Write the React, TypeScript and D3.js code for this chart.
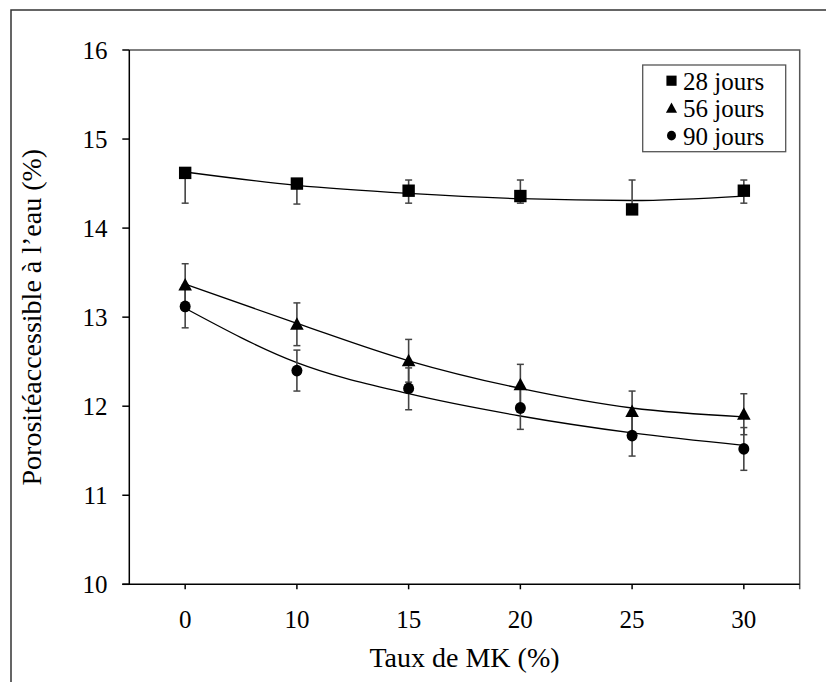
import React from "react";
import * as d3 from "d3";

// ---- Data ----
const categories = ["0", "10", "15", "20", "25", "30"];
const yTicks = [10, 11, 12, 13, 14, 15, 16];

const values28 = [14.62, 14.5, 14.42, 14.36, 14.21, 14.42];
const errUp28 = [0, 0, 0.12, 0.18, 0.33, 0.12];
const errDown28 = [0.34, 0.23, 0.14, 0.08, 0, 0.14];
const fit28 = [14.63, 14.48, 14.39, 14.33, 14.31, 14.36];

const values56 = [13.36, 12.92, 12.51, 12.24, 11.94, 11.91];
const errUp56 = [0.24, 0.24, 0.24, 0.23, 0.23, 0.23];
const errDown56 = [0.24, 0.24, 0.24, 0.23, 0.23, 0.23];
const fit56 = [13.37, 12.93, 12.51, 12.2, 11.98, 11.88];

const values90 = [13.12, 12.4, 12.2, 11.98, 11.67, 11.52];
const errUp90 = [0.24, 0.23, 0.23, 0.24, 0.23, 0.24];
const errDown90 = [0.24, 0.23, 0.24, 0.24, 0.23, 0.24];
const fit90 = [13.1, 12.49, 12.14, 11.89, 11.7, 11.56];

const seriesNames = ["28 jours", "56 jours", "90 jours"];
const seriesShapes = ["square", "triangle", "circle"];

const xTitle = "Taux de MK (%)";
const yTitle = "Porositéaccessible à l’eau (%)";

const FONT = '"Liberation Serif", Times, "Times New Roman", serif';

function Marker({ shape, x, y, s = 1 }: { shape: string; x: number; y: number; s?: number }) {
  if (shape === "square") {
    const h = 6.2 * s;
    return <rect x={x - h} y={y - h} width={2 * h} height={2 * h} fill="#000" />;
  }
  if (shape === "triangle") {
    const w = 6.8 * s;
    const p = `M${x},${y - 7 * s} L${x + w},${y + 5.5 * s} L${x - w},${y + 5.5 * s} Z`;
    return <path d={p} fill="#000" />;
  }
  return <ellipse cx={x} cy={y} rx={5.5 * s} ry={5.9 * s} fill="#000" />;
}

export default function App() {
  const W = 826;
  const H = 682;
  const left = 129.3;
  const right = 799.7;
  const top = 50;
  const bottom = 584.3;

  const x = d3.scalePoint<string>().domain(categories).range([left, right]).padding(0.5);
  const y = d3.scaleLinear().domain([10, 16]).range([bottom, top]);

  const series = [
    { name: seriesNames[0], shape: seriesShapes[0], v: values28, up: errUp28, dn: errDown28, fit: fit28 },
    { name: seriesNames[1], shape: seriesShapes[1], v: values56, up: errUp56, dn: errDown56, fit: fit56 },
    { name: seriesNames[2], shape: seriesShapes[2], v: values90, up: errUp90, dn: errDown90, fit: fit90 },
  ];

  const line = d3
    .line<number>()
    .x((_, i) => x(categories[i]) as number)
    .y((d) => y(d))
    .curve(d3.curveMonotoneX);

  const capW = 3.5;
  const tickStyle = { fontFamily: FONT, fontSize: "25px" };
  const titleStyle = { fontFamily: FONT, fontSize: "28px" };

  return (
    <svg
      width={W}
      height={H}
      style={{ position: "absolute", left: 0, top: 0, background: "#fff", fontFamily: FONT }}
    >
      <rect width={W} height={H} fill="#fff" />
      {/* outer border (left + top) */}
      <path d={`M11,${H} L11,10 L${W},10`} fill="none" stroke="#333" strokeWidth={1.5} />

      {/* plot frame top / right */}
      <path d={`M${left},${top} L${right},${top} L${right},${bottom + 5}`} fill="none" stroke="#555" strokeWidth={1.5} />
      {/* axes */}
      <line x1={left} y1={top} x2={left} y2={bottom} stroke="#000" strokeWidth={1.5} />
      <line x1={left - 7} y1={bottom} x2={right} y2={bottom} stroke="#000" strokeWidth={1.5} />

      {/* y ticks */}
      {yTicks.map((t) => (
        <g key={t}>
          <line x1={left - 7} x2={left} y1={y(t)} y2={y(t)} stroke="#000" strokeWidth={1.5} />
          <text x={107.5} y={y(t)} dy="0.35em" textAnchor="end" style={tickStyle} fill="#000">
            {t}
          </text>
        </g>
      ))}

      {/* x ticks */}
      {categories.map((c) => (
        <g key={c}>
          <line x1={x(c)} x2={x(c)} y1={bottom} y2={bottom + 5} stroke="#000" strokeWidth={1.5} />
          <text x={x(c)} y={628} textAnchor="middle" style={tickStyle} fill="#000">
            {c}
          </text>
        </g>
      ))}

      {/* titles */}
      <text x={(left + right) / 2} y={667} textAnchor="middle" style={titleStyle} fill="#000">
        {xTitle}
      </text>
      <text
        transform={`translate(41,${(top + bottom) / 2}) rotate(-90)`}
        textAnchor="middle"
        style={titleStyle}
        fill="#000"
      >
        {yTitle}
      </text>

      {/* fit curves */}
      {series.map((s) => (
        <path key={s.name + "fit"} d={line(s.fit) || ""} fill="none" stroke="#000" strokeWidth={1.3} />
      ))}

      {/* error bars */}
      {series.map((s) =>
        s.v.map((v, i) => {
          const cx = x(categories[i]) as number;
          const els: React.ReactNode[] = [];
          if (s.up[i] > 0) {
            const yy = y(v + s.up[i]);
            els.push(<line key="u" x1={cx} x2={cx} y1={y(v)} y2={yy} stroke="#444" strokeWidth={1.6} />);
            els.push(<line key="uc" x1={cx - capW} x2={cx + capW} y1={yy} y2={yy} stroke="#444" strokeWidth={1.5} />);
          }
          if (s.dn[i] > 0) {
            const yy = y(v - s.dn[i]);
            els.push(<line key="d" x1={cx} x2={cx} y1={y(v)} y2={yy} stroke="#444" strokeWidth={1.6} />);
            els.push(<line key="dc" x1={cx - capW} x2={cx + capW} y1={yy} y2={yy} stroke="#444" strokeWidth={1.5} />);
          }
          return <g key={s.name + i}>{els}</g>;
        })
      )}

      {/* markers */}
      {series.map((s) =>
        s.v.map((v, i) => (
          <Marker key={s.name + "m" + i} shape={s.shape} x={x(categories[i]) as number} y={y(v)} />
        ))
      )}

      {/* legend */}
      <rect x={642.7} y={65} width={143} height={86.7} fill="#fff" stroke="#555" strokeWidth={1.3} />
      {series.map((s, i) => {
        const cy = 80.7 + i * 27.5;
        return (
          <g key={s.name + "leg"}>
            <Marker shape={s.shape} x={671.5} y={cy} s={0.82} />
            <text x={683} y={cy + 8.8} style={tickStyle} fill="#000">
              {s.name}
            </text>
          </g>
        );
      })}
    </svg>
  );
}
